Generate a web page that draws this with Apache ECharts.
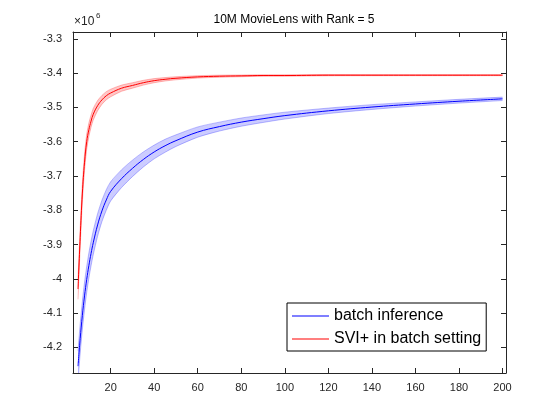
<!DOCTYPE html>
<html>
<head>
<meta charset="utf-8">
<script src="https://cdn.jsdelivr.net/npm/echarts@6/dist/echarts.min.js"></script>
<style>
  html, body { margin: 0; padding: 0; background: #fff; }
  #chart { width: 560px; height: 420px; }
</style>
</head>
<body>
<div id="chart"></div>
<script>
// 迭代次数
var xs = [5, 6, 7, 8, 9, 10, 11, 12, 14, 16, 18, 20, 25, 30, 35, 40, 45, 50, 60, 70, 80, 90, 100, 120, 140, 160, 180, 200];
// batch inference (x1e6)
var blueMean = [-4.255, -4.175, -4.107, -4.05, -4.002, -3.961, -3.926, -3.895, -3.843, -3.802, -3.77, -3.745, -3.708, -3.678, -3.652, -3.63, -3.612, -3.597, -3.572, -3.556, -3.543, -3.533, -3.524, -3.51, -3.499, -3.49, -3.482, -3.475];
var blueSd = [0.045, 0.043, 0.041, 0.04, 0.038, 0.037, 0.036, 0.035, 0.033, 0.031, 0.03, 0.028, 0.026, 0.024, 0.022, 0.02, 0.019, 0.017, 0.015, 0.013, 0.012, 0.011, 0.01, 0.008, 0.007, 0.006, 0.0055, 0.005];
// SVI+ in batch setting (x1e6)
var redMean = [-4.03, -3.88, -3.75, -3.66, -3.60, -3.565, -3.54, -3.52, -3.495, -3.478, -3.466, -3.458, -3.444, -3.436, -3.428, -3.422, -3.418, -3.415, -3.411, -3.409, -3.408, -3.407, -3.407, -3.406, -3.406, -3.406, -3.406, -3.406];
var redSd = [0.03, 0.028, 0.026, 0.024, 0.022, 0.02, 0.018, 0.017, 0.015, 0.013, 0.012, 0.011, 0.009, 0.008, 0.007, 0.006, 0.005, 0.0045, 0.0035, 0.003, 0.0025, 0.002, 0.002, 0.0018, 0.0016, 0.0015, 0.0015, 0.0015];
// 刻度
var xTicks = [20, 40, 60, 80, 100, 120, 140, 160, 180, 200];
var yTicks = [-4.2, -4.1, -4.0, -3.9, -3.8, -3.7, -3.6, -3.5, -3.4, -3.3];

function pairs(vals) {
  return xs.map(function (x, i) { return [x, vals[i]]; });
}

var axisColor = '#262626';
var font = 'Liberation Sans, Arial, Helvetica, sans-serif';

function xAxisCfg(pos, labels) {
  return {
    type: 'value',
    position: pos,
    min: 2.7,
    max: 201.6,
    splitLine: { show: false },
    axisLine: { show: true, onZero: false, lineStyle: { color: axisColor, width: 1 } },
    axisTick: { show: true, inside: true, length: 5, customValues: xTicks, lineStyle: { color: axisColor } },
    axisLabel: { show: labels, customValues: xTicks, margin: 9, color: axisColor, fontSize: 11, fontFamily: font }
  };
}
function yAxisCfg(pos, labels) {
  return {
    type: 'value',
    position: pos,
    min: -4.275,
    max: -3.28,
    splitLine: { show: false },
    axisLine: { show: true, onZero: false, lineStyle: { color: axisColor, width: 1 } },
    axisTick: { show: true, inside: true, length: 5, customValues: yTicks, lineStyle: { color: axisColor } },
    axisLabel: {
      show: labels, customValues: yTicks, margin: 11, color: axisColor, fontSize: 11, fontFamily: font,
      formatter: function (v) { return String(Number(v.toFixed(1))); }
    }
  };
}

// 置信带：均值 ± 标准差，用坐标轴换算成多边形
function bandSeries(mean, sd, fill, edge) {
  return {
    type: 'custom',
    silent: true,
    clip: true,
    data: [0],
    renderItem: function (params, api) {
      var up = [], lo = [];
      for (var i = 0; i < xs.length; i++) {
        up.push(api.coord([xs[i], mean[i] + sd[i]]));
        lo.unshift(api.coord([xs[i], mean[i] - sd[i]]));
      }
      return {
        type: 'group',
        children: [{
          type: 'polygon',
          shape: { points: up.concat(lo) },
          style: { fill: fill, stroke: null }
        }, {
          type: 'polyline',
          shape: { points: up, smooth: 0.3 },
          style: { fill: null, stroke: edge, lineWidth: 1 }
        }, {
          type: 'polyline',
          shape: { points: lo, smooth: 0.3 },
          style: { fill: null, stroke: edge, lineWidth: 1 }
        }]
      };
    }
  };
}

var chart = echarts.init(document.getElementById('chart'), null, { renderer: 'canvas' });
var option = {
  animation: false,
  backgroundColor: '#fff',
  title: {
    text: '10M MovieLens with Rank = 5',
    left: 289,
    textAlign: 'center',
    top: 9,
    textStyle: { fontSize: 12, fontWeight: 'normal', color: '#000', fontFamily: font }
  },
  grid: { left: 73, top: 32, right: 54, bottom: 47, containLabel: false },
  xAxis: [xAxisCfg('bottom', true), xAxisCfg('top', false)],
  yAxis: [yAxisCfg('left', true), yAxisCfg('right', false)],
  legend: {
    data: ['batch inference', 'SVI+ in batch setting'],
    orient: 'vertical',
    left: 287,
    top: 303,
    padding: [5, 5, 4, 5],
    itemGap: 7,
    itemWidth: 37,
    itemHeight: 1,
    icon: 'rect',
    backgroundColor: '#fff',
    borderColor: '#000',
    borderWidth: 1,
    borderRadius: 0,
    textStyle: { fontSize: 16, lineHeight: 16, color: '#000', fontFamily: font }
  },
  graphic: [
    { type: 'text', left: 74, top: 16, style: { text: '×10', fontSize: 12, fill: axisColor, fontFamily: font } },
    { type: 'text', left: 96, top: 12, style: { text: '6', fontSize: 8, fill: axisColor, fontFamily: font } }
  ],
  series: [
    bandSeries(blueMean, blueSd, 'rgba(0,0,255,0.2)', 'rgba(0,0,255,0.25)'),
    bandSeries(redMean, redSd, 'rgba(255,0,0,0.22)', 'rgba(255,0,0,0.25)'),
    {
      name: 'batch inference', type: 'line', data: pairs(blueMean),
      symbol: 'none', smooth: 0.4,
      itemStyle: { color: '#0000ff' },
      lineStyle: { color: '#0000ff', width: 1 }
    },
    {
      name: 'SVI+ in batch setting', type: 'line', data: pairs(redMean),
      symbol: 'none', smooth: 0.4,
      itemStyle: { color: '#ff0000' },
      lineStyle: { color: '#ff0000', width: 1 }
    }
  ]
};
chart.setOption(option);
</script>
</body>
</html>
